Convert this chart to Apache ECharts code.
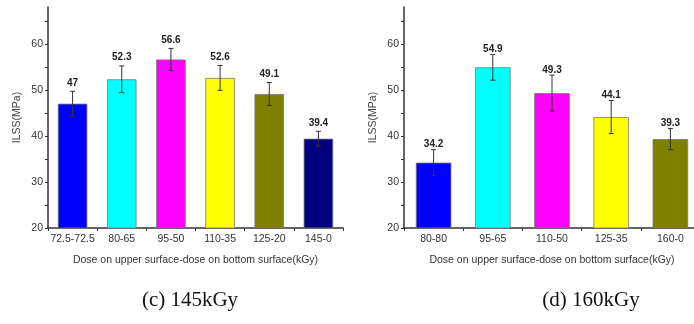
<!DOCTYPE html>
<html>
<head>
<meta charset="utf-8">
<script src="https://cdn.jsdelivr.net/npm/echarts@6/dist/echarts.min.js"></script>
<style>
html, body { margin: 0; padding: 0; background: #fff; }
#chart { width: 694px; height: 324px; }
</style>
</head>
<body>
<div id="chart"></div>
<script>
// (c) 145kGy
var catsC = ['72.5-72.5', '80-65', '95-50', '110-35', '125-20', '145-0'];
var ilssC = [47, 52.3, 56.6, 52.6, 49.1, 39.4];
var errC = [2.7, 2.9, 2.4, 2.7, 2.5, 1.6];
var colorsC = ['#0000ff', '#00ffff', '#ff00ff', '#ffff00', '#808000', '#000080'];

// (d) 160kGy
var catsD = ['80-80', '95-65', '110-50', '125-35', '160-0'];
var ilssD = [34.2, 54.9, 49.3, 44.1, 39.3];
var errD = [2.8, 2.8, 3.9, 3.6, 2.3];
var colorsD = ['#0000ff', '#00ffff', '#ff00ff', '#ffff00', '#808000'];

var yLabels = [20, 30, 40, 50, 60];
var yTicks = [20, 25, 30, 35, 40, 45, 50, 55, 60, 65];
var captions = ['(c) 145kGy', '(d) 160kGy'];

var axisColor = '#333';
var font = 'Liberation Sans, Arial, sans-serif';

function xAxisOf(cats, idx) {
  return {
    type: 'category',
    gridIndex: idx,
    data: cats,
    name: 'Dose on upper surface-dose on bottom surface(kGy)',
    nameLocation: 'middle',
    nameGap: 27,
    nameTextStyle: { color: '#333', fontSize: 10.5, fontFamily: font },
    axisLine: { lineStyle: { color: axisColor, width: 1.5 } },
    axisTick: { show: true, length: 3, lineStyle: { color: axisColor } },
    axisLabel: { color: '#333', fontSize: 10.5, fontFamily: font, margin: 6, interval: 0 }
  };
}

function yAxisOf(idx) {
  return {
    type: 'value',
    gridIndex: idx,
    min: 20,
    max: 68,
    interval: 10,
    name: 'ILSS(MPa)',
    nameLocation: 'middle',
    nameGap: 25,
    nameTextStyle: { color: '#444', fontSize: 10.5, fontFamily: font },
    axisLine: { show: true, lineStyle: { color: axisColor, width: 1.5 } },
    axisTick: { show: true, length: 3, customValues: yTicks, lineStyle: { color: axisColor } },
    axisLabel: { color: '#333', fontSize: 10.5, fontFamily: font, margin: 5, customValues: yLabels },
    splitLine: { show: false }
  };
}

function barSeries(vals, colors, idx) {
  return {
    type: 'bar',
    xAxisIndex: idx,
    yAxisIndex: idx,
    barWidth: '60%',
    data: vals.map(function (v, i) {
      return { value: v, itemStyle: { color: colors[i] } };
    }),
    itemStyle: { borderColor: '#777', borderWidth: 0.8 },
    animation: false
  };
}

function errSeries(vals, errs, idx, labelGap) {
  return {
    type: 'custom',
    xAxisIndex: idx,
    yAxisIndex: idx,
    z: 10,
    data: vals.map(function (v, i) { return [i, v - errs[i], v + errs[i], v]; }),
    renderItem: function (params, api) {
      var lo = api.coord([api.value(0), api.value(1)]);
      var hi = api.coord([api.value(0), api.value(2)]);
      var x = lo[0];
      var cap = 2.5;
      var st = { stroke: '#333', lineWidth: 1 };
      return {
        type: 'group',
        children: [
          { type: 'line', shape: { x1: x, y1: lo[1], x2: x, y2: hi[1] }, style: st },
          { type: 'line', shape: { x1: x - cap, y1: lo[1], x2: x + cap, y2: lo[1] }, style: st },
          { type: 'line', shape: { x1: x - cap, y1: hi[1], x2: x + cap, y2: hi[1] }, style: st },
          {
            type: 'text',
            style: {
              x: x, y: hi[1] - labelGap,
              text: String(api.value(3)),
              textAlign: 'center', textVerticalAlign: 'middle',
              fill: '#222', font: 'bold 10px ' + font
            }
          }
        ]
      };
    },
    animation: false
  };
}

var chart = echarts.init(document.getElementById('chart'), null, { renderer: 'canvas' });

var option = {
  backgroundColor: '#fff',
  animation: false,
  grid: [
    { left: 48, top: 7, width: 295, height: 221, outerBoundsMode: 'none' },
    { left: 404, top: 7, width: 296, height: 221, outerBoundsMode: 'none' }
  ],
  xAxis: [xAxisOf(catsC, 0), xAxisOf(catsD, 1)],
  yAxis: [yAxisOf(0), yAxisOf(1)],
  series: [
    barSeries(ilssC, colorsC, 0),
    errSeries(ilssC, errC, 0, 8.5),
    barSeries(ilssD, colorsD, 1),
    errSeries(ilssD, errD, 1, 5)
  ],
  graphic: [
    {
      type: 'text', x: 190, y: 300,
      style: { text: captions[0], font: '21px Liberation Serif, Times New Roman, serif', fill: '#111', textAlign: 'center', textVerticalAlign: 'middle' }
    },
    {
      type: 'text', x: 591, y: 300,
      style: { text: captions[1], font: '21px Liberation Serif, Times New Roman, serif', fill: '#111', textAlign: 'center', textVerticalAlign: 'middle' }
    }
  ]
};

chart.setOption(option);
</script>
</body>
</html>
